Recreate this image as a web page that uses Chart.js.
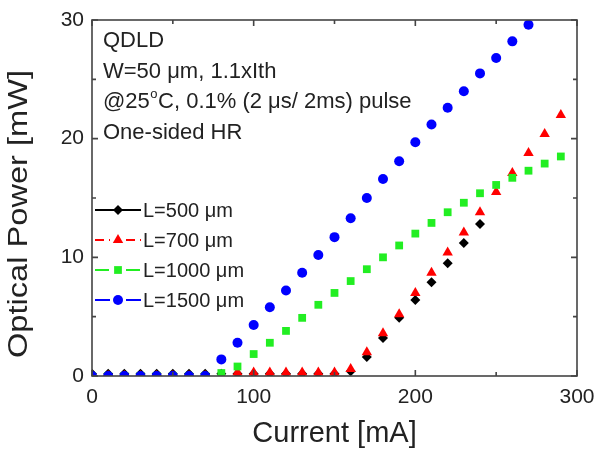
<!DOCTYPE html>
<html>
<head>
<meta charset="utf-8">
<script src="https://cdn.jsdelivr.net/npm/chart.js@4.4.0/dist/chart.umd.min.js"></script>
<style>
  body { margin: 0; background: #fff; }
  canvas { display: block; }
</style>
</head>
<body>
<canvas id="myChart" width="596" height="452"></canvas>
<script>
// 電流 (mA)
var current = [0, 10, 20, 30, 40, 50, 60, 70, 80, 90, 100, 110, 120, 130, 140,
               150, 160, 170, 180, 190, 200, 210, 220, 230, 240, 250, 260, 270, 280, 290];

// 光功率 (mW)
var p500 = [0.2, 0.2, 0.2, 0.2, 0.2, 0.2, 0.2, 0.2, 0.2, 0.2, 0.2, 0.2, 0.2, 0.2, 0.2,
            0.2, 0.4, 1.6, 3.2, 4.9, 6.4, 7.9, 9.5, 11.2, 12.8];
var p700 = [0, 0, 0, 0, 0, 0, 0, 0, 0, 0.3, 0.3, 0.3, 0.3, 0.3, 0.3,
            0.3, 0.6, 2.0, 3.6, 5.2, 7.0, 8.7, 10.4, 12.1, 13.8, 15.5, 17.1, 18.8, 20.4, 22.0];
var p1000 = [0, 0, 0, 0, 0, 0, 0, 0, 0.25, 0.8, 1.85, 2.8, 3.8, 4.9, 6.0,
             7.0, 8.0, 9.0, 10.0, 11.0, 12.0, 12.9, 13.8, 14.6, 15.4, 16.1, 16.7, 17.3, 17.9, 18.5];
var p1500 = [0, 0, 0, 0, 0, 0, 0, 0, 1.4, 2.8, 4.3, 5.8, 7.2, 8.7, 10.2,
             11.7, 13.3, 15.0, 16.6, 18.1, 19.7, 21.2, 22.6, 24.0, 25.5, 26.8, 28.2, 29.6];

var legendLabels = ['L=500 \u03bcm', 'L=700 \u03bcm', 'L=1000 \u03bcm', 'L=1500 \u03bcm'];
var noteLines = ['QDLD', 'W=50 \u03bcm, 1.1xIth', '@25|o|C, 0.1% (2 \u03bcs/ 2ms) pulse', 'One-sided HR'];
var yTitle = 'Optical Power [mW]';

var xMajor = [0, 100, 200, 300];
var xMinor = [50, 150, 250];
var yMajor = [0, 10, 20, 30];
var yMinor = [5, 15, 25];

function pairs(values) {
    return values.map(function (v, i) { return { x: current[i], y: v }; });
}

var FONT = '"Liberation Sans", Arial, sans-serif';
Chart.defaults.font.family = FONT;
Chart.defaults.color = '#222';

var series = [
    { data: p500, color: '#000000', style: 'rectRot', radius: 5, dash: [] },
    { data: p700, color: '#ff0000', style: 'triangle', radius: 6, dash: [9, 5] },
    { data: p1000, color: '#22ee22', style: 'rect', radius: 5.5, dash: [14, 6] },
    { data: p1500, color: '#0000ff', style: 'circle', radius: 5, dash: [16, 5] }
];

function drawMarker(ctx, style, r, x, y) {
    ctx.beginPath();
    if (style === 'circle') {
        ctx.arc(x, y, r, 0, Math.PI * 2);
    } else if (style === 'rect') {
        var s = r * Math.SQRT1_2;
        ctx.rect(x - s, y - s, s * 2, s * 2);
    } else if (style === 'triangle') {
        ctx.moveTo(x, y - r);
        ctx.lineTo(x + r * 0.866, y + r * 0.5);
        ctx.lineTo(x - r * 0.866, y + r * 0.5);
        ctx.closePath();
    } else {
        ctx.moveTo(x, y - r);
        ctx.lineTo(x + r, y);
        ctx.lineTo(x, y + r);
        ctx.lineTo(x - r, y);
        ctx.closePath();
    }
    ctx.fill();
}

var framePlugin = {
    id: 'frame',
    afterDraw: function (chart) {
        var ctx = chart.ctx;
        var a = chart.chartArea;
        var xs = chart.scales.x, ys = chart.scales.y;
        ctx.save();
        ctx.strokeStyle = '#444';
        ctx.lineWidth = 1.6;
        ctx.strokeRect(a.left, a.top, a.right - a.left, a.bottom - a.top);

        ctx.beginPath();
        function xt(v, len) {
            var px = xs.getPixelForValue(v);
            ctx.moveTo(px, a.bottom); ctx.lineTo(px, a.bottom - len);
            ctx.moveTo(px, a.top); ctx.lineTo(px, a.top + len);
        }
        function yt(v, len) {
            var py = ys.getPixelForValue(v);
            ctx.moveTo(a.left, py); ctx.lineTo(a.left + len, py);
            ctx.moveTo(a.right, py); ctx.lineTo(a.right - len, py);
        }
        xMajor.forEach(function (v) { xt(v, 6); });
        xMinor.forEach(function (v) { xt(v, 4); });
        yMajor.forEach(function (v) { yt(v, 6); });
        yMinor.forEach(function (v) { yt(v, 4); });
        ctx.stroke();

        // y 軸標題 (原圖文字較寬)
        ctx.fillStyle = '#222';
        ctx.textBaseline = 'middle';
        ctx.textAlign = 'center';
        ctx.font = '27px ' + FONT;
        var w = ctx.measureText(yTitle).width;
        ctx.save();
        ctx.translate(20, 214);
        ctx.rotate(-Math.PI / 2);
        ctx.scale(288 / w, 1);
        ctx.fillText(yTitle, 0, 0);
        ctx.restore();

        // 說明文字
        ctx.textAlign = 'left';
        noteLines.forEach(function (line, i) {
            var y = 41 + i * 30.5;
            var parts = line.split('|');
            var x = 103;
            ctx.font = '22px ' + FONT;
            if (parts.length === 3) {
                ctx.fillText(parts[0], x, y);
                x += ctx.measureText(parts[0]).width;
                ctx.font = '13px ' + FONT;
                ctx.fillText(parts[1], x + 0.5, y - 8);
                x += ctx.measureText(parts[1]).width + 1;
                ctx.font = '22px ' + FONT;
                ctx.fillText(parts[2], x, y);
            } else {
                ctx.fillText(line, x, y);
            }
        });

        // 圖例
        series.forEach(function (s, i) {
            var y = 210 + i * 30;
            ctx.strokeStyle = s.color;
            ctx.fillStyle = s.color;
            ctx.lineWidth = 2;
            ctx.setLineDash(s.dash);
            ctx.beginPath();
            if (s.dash.length === 0) {
                ctx.moveTo(95, y); ctx.lineTo(141, y);
            } else {
                ctx.moveTo(95, y); ctx.lineTo(110, y);
                ctx.moveTo(126, y); ctx.lineTo(141, y);
            }
            ctx.stroke();
            ctx.setLineDash([]);
            drawMarker(ctx, s.style, s.radius, 118, y);
            ctx.fillStyle = '#222';
            ctx.font = '20px ' + FONT;
            ctx.fillText(legendLabels[i], 143, y + 1);
        });
        ctx.restore();
    }
};

var ctx = document.getElementById('myChart').getContext('2d');
var myChart = new Chart(ctx, {
    type: 'scatter',
    data: {
        datasets: series.map(function (s, i) {
            return {
                label: legendLabels[i],
                data: pairs(s.data),
                pointStyle: s.style,
                pointRadius: s.radius,
                pointBackgroundColor: s.color,
                pointBorderColor: s.color,
                pointBorderWidth: 0,
                showLine: false,
                order: 4 - i
            };
        })
    },
    options: {
        responsive: false,
        animation: false,
        layout: { padding: { top: 20, right: 19, left: 0, bottom: 0 } },
        plugins: {
            legend: { display: false },
            tooltip: { enabled: false }
        },
        scales: {
            x: {
                type: 'linear',
                min: 0,
                max: 300,
                grid: { display: false, drawTicks: false },
                border: { display: false },
                ticks: { stepSize: 100, font: { size: 21 }, padding: 9, maxRotation: 0 },
                title: { display: true, text: 'Current [mA]', font: { size: 29 }, padding: { top: 0, bottom: 1 } },
                afterFit: function (scale) {
                    scale.height = 76;
                    scale.paddingLeft = 0;
                    scale.paddingRight = 0;
                }
            },
            y: {
                min: 0,
                max: 30,
                grid: { display: false, drawTicks: false },
                border: { display: false },
                ticks: { stepSize: 10, font: { size: 21 }, padding: 8 },
                title: { display: false },
                afterFit: function (scale) {
                    scale.width = 92;
                    scale.paddingTop = 0;
                    scale.paddingBottom = 0;
                }
            }
        }
    },
    plugins: [framePlugin]
});
</script>
</body>
</html>
